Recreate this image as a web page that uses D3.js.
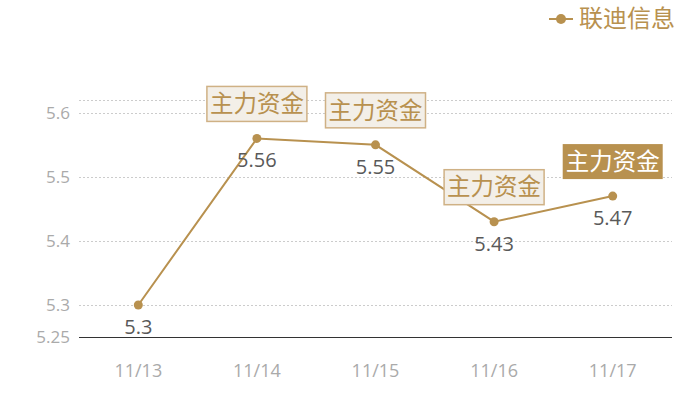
<!DOCTYPE html>
<html lang="zh">
<head>
    <meta charset="UTF-8">
    <title>联迪信息</title>
    <style>
        body { margin: 0; background: #fff; }
        svg { display: block; font-family: "Open Sans", "Noto Sans CJK SC", sans-serif; }
        .cjk { font-family: "Noto Sans CJK SC", sans-serif; }
    </style>
</head>
<body>
    <div id="chart"></div>
    <script src="https://d3js.org/d3.v7.min.js"></script>
    <script>
        const dates = ["11/13", "11/14", "11/15", "11/16", "11/17"];
        const values = [5.3, 5.56, 5.55, 5.43, 5.47];
        const yTicks = [5.3, 5.4, 5.5, 5.6];
        const yMin = 5.25, yMax = 5.62;
        // which points get a "主力资金" tag, last one is highlighted
        const tagged = [1, 2, 3, 4];
        const tagText = "主力资金";
        const seriesName = "联迪信息";

        const width = 700, height = 400;
        const margin = { top: 100, right: 28, bottom: 63, left: 79 };
        const gold = "#b8914f";

        const svg = d3.select("#chart").append("svg")
            .attr("width", width)
            .attr("height", height);

        const x = d3.scaleBand()
            .domain(dates)
            .range([margin.left, width - margin.right]);

        const y = d3.scaleLinear()
            .domain([yMin, yMax])
            .range([height - margin.bottom, margin.top]);

        // grid lines
        svg.append("g")
            .selectAll("line")
            .data(yTicks.concat([yMax]))
            .join("line")
            .attr("x1", margin.left)
            .attr("x2", width - margin.right)
            .attr("y1", d => Math.round(y(d)) + 0.5)
            .attr("y2", d => Math.round(y(d)) + 0.5)
            .attr("stroke", "#ccc")
            .attr("stroke-dasharray", "2,2");

        // y axis labels
        svg.append("g")
            .selectAll("text")
            .data(yTicks.concat([yMin]))
            .join("text")
            .attr("x", 70)
            .attr("y", d => y(d))
            .attr("dy", "0.35em")
            .attr("text-anchor", "end")
            .attr("fill", "#aaa")
            .attr("font-size", 17)
            .text(d => d);

        // x axis
        svg.append("line")
            .attr("x1", margin.left)
            .attr("x2", width - margin.right)
            .attr("y1", Math.round(y(yMin)) + 0.5)
            .attr("y2", Math.round(y(yMin)) + 0.5)
            .attr("stroke", "#333");

        svg.append("g")
            .selectAll("text")
            .data(dates)
            .join("text")
            .attr("x", d => x(d) + x.bandwidth() / 2)
            .attr("y", 371)
            .attr("dy", "0.35em")
            .attr("text-anchor", "middle")
            .attr("fill", "#aaa")
            .attr("font-size", 18)
            .text(d => d);

        const cx = i => x(dates[i]) + x.bandwidth() / 2;

        const line = d3.line()
            .x((d, i) => cx(i))
            .y(d => y(d));

        svg.append("path")
            .datum(values)
            .attr("d", line)
            .attr("fill", "none")
            .attr("stroke", gold)
            .attr("stroke-width", 2);

        svg.append("g")
            .selectAll("circle")
            .data(values)
            .join("circle")
            .attr("cx", (d, i) => cx(i))
            .attr("cy", d => y(d))
            .attr("r", 4.5)
            .attr("fill", gold);

        // value labels
        svg.append("g")
            .selectAll("text")
            .data(values)
            .join("text")
            .attr("x", (d, i) => cx(i))
            .attr("y", d => y(d) + 22)
            .attr("dy", "0.35em")
            .attr("text-anchor", "middle")
            .attr("fill", "#595959")
            .attr("font-size", 20)
            .text(d => d);

        // tags above points
        const tags = svg.append("g")
            .selectAll("g")
            .data(tagged)
            .join("g")
            .attr("transform", i => `translate(${cx(i)},${y(values[i]) - 17})`);

        tags.append("rect")
            .attr("x", -50)
            .attr("y", -35)
            .attr("width", 100)
            .attr("height", 35)
            .attr("fill", (i, k) => k === tagged.length - 1 ? gold : "#f3efe8")
            .attr("stroke", (i, k) => k === tagged.length - 1 ? "none" : "#cfb185")
            .attr("stroke-width", 1.5);

        tags.append("text")
            .attr("class", "cjk")
            .attr("x", 0)
            .attr("y", -17.5)
            .attr("dy", "0.35em")
            .attr("text-anchor", "middle")
            .attr("font-size", 23.5)
            .attr("fill", (i, k) => k === tagged.length - 1 ? "#fff" : gold)
            .text(tagText);

        // legend
        const legend = svg.append("g");
        legend.append("line")
            .attr("x1", 549).attr("x2", 573)
            .attr("y1", 19).attr("y2", 19)
            .attr("stroke", gold).attr("stroke-width", 2);
        legend.append("circle")
            .attr("cx", 561).attr("cy", 19).attr("r", 5)
            .attr("fill", gold);
        legend.append("text")
            .attr("class", "cjk")
            .attr("x", 579).attr("y", 19)
            .attr("dy", "0.35em")
            .attr("font-size", 24)
            .attr("fill", gold)
            .text(seriesName);
    </script>
</body>
</html>
